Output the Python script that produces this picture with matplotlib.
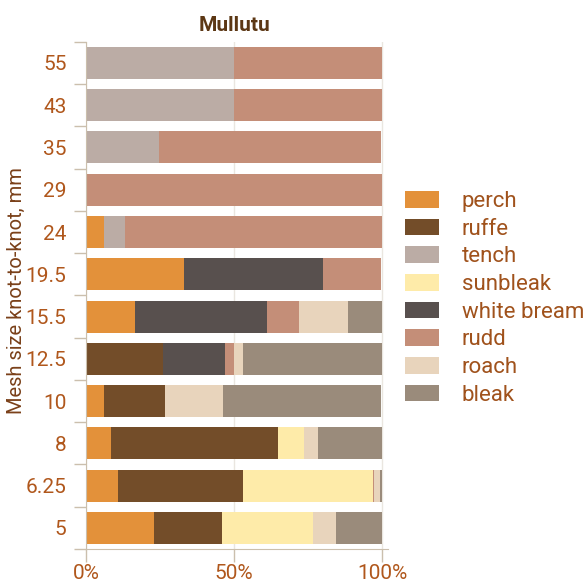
import numpy as np
import matplotlib.pyplot as plt
from matplotlib.patches import Patch

plt.rcParams['font.family'] = ['Roboto', 'DejaVu Sans']

# mesh sizes, bottom to top
mesh = ['5', '6.25', '8', '10', '12.5', '15.5', '19.5', '24', '29', '35', '43', '55']

species = ['perch', 'ruffe', 'tench', 'sunbleak', 'white bream', 'rudd', 'roach', 'bleak']
colors = ['#E3913A', '#734D29', '#BBACA5', '#FEEBA9', '#58504E', '#C48E78', '#E8D4BC', '#9A8B7B']

# shares per species (same order as mesh)
perch = [0.229, 0.108, 0.084, 0.061, 0.0, 0.165, 0.330, 0.061, 0.0, 0.0, 0.0, 0.0]
ruffe = [0.229, 0.421, 0.563, 0.205, 0.260, 0.0, 0.0, 0.0, 0.0, 0.0, 0.0, 0.0]
tench = [0.0, 0.0, 0.0, 0.0, 0.0, 0.0, 0.0, 0.070, 0.0, 0.246, 0.499, 0.499]
sunbleak = [0.307, 0.442, 0.088, 0.0, 0.0, 0.0, 0.0, 0.0, 0.0, 0.0, 0.0, 0.0]
white_bream = [0.0, 0.0, 0.0, 0.0, 0.208, 0.445, 0.469, 0.0, 0.0, 0.0, 0.0, 0.0]
rudd = [0.0, 0.003, 0.0, 0.0, 0.031, 0.111, 0.198, 0.869, 1.0, 0.751, 0.501, 0.501]
roach = [0.078, 0.020, 0.047, 0.196, 0.030, 0.165, 0.0, 0.0, 0.0, 0.0, 0.0, 0.0]
bleak = [0.157, 0.006, 0.218, 0.535, 0.471, 0.114, 0.0, 0.0, 0.0, 0.0, 0.0, 0.0]

data = [perch, ruffe, tench, sunbleak, white_bream, rudd, roach, bleak]

tick_col = '#B0571C'
line_col = '#CBBFAD'

fig = plt.figure(figsize=(5.87, 5.83), dpi=100)
ax = fig.add_axes([86/587, 1-549/583, (388-86)/587, (549-41.8)/583])

y = np.arange(len(mesh))
left = np.zeros(len(mesh))
for vals, c in zip(data, colors):
    vals = np.array(vals)
    ax.barh(y, vals, left=left, height=0.757, color=c, zorder=2)
    left += vals

ax.set_xlim(0, 1.02)
ax.set_ylim(-0.5, len(mesh) - 0.5)

ax.set_xticks([0, 0.5, 1.0])
ax.set_xticklabels(['0%', '50%', '100%'])
ax.set_yticks(y)
ax.set_yticklabels(mesh)
ax.set_yticks(np.arange(-0.5, len(mesh)), minor=True)
ax.tick_params(axis='y', which='major', length=0, pad=14, labelsize=15, labelcolor=tick_col)
ax.tick_params(axis='y', which='minor', length=9, width=1, color=line_col)
ax.tick_params(axis='x', length=9, width=1, color=line_col, labelsize=15, labelcolor=tick_col, pad=2)
ax.grid(axis='x', color='#EAE6E0', linewidth=1, zorder=0)

for s in ['top', 'right']:
    ax.spines[s].set_visible(False)
for s in ['left', 'bottom']:
    ax.spines[s].set_color(line_col)

ax.set_ylabel('Mesh size knot-to-knot, mm', fontsize=14.5, color='#7A4019')
ax.yaxis.set_label_coords(-0.199, 0.51)
ax.set_title('Mullutu', fontsize=15, fontweight='bold', color='#5C3714', x=(234-86)/302, pad=8)

handles = [Patch(facecolor=c, edgecolor='none') for c in colors]
fig.legend(handles, species, loc='upper left', bbox_to_anchor=(405/587, 1-191/583),
           frameon=False, fontsize=16, labelcolor='#A0521C', handlelength=1.55,
           handleheight=0.77, labelspacing=0.3, handletextpad=1.0, borderpad=0,
           borderaxespad=0)

fig.savefig('out.png', dpi=100)
